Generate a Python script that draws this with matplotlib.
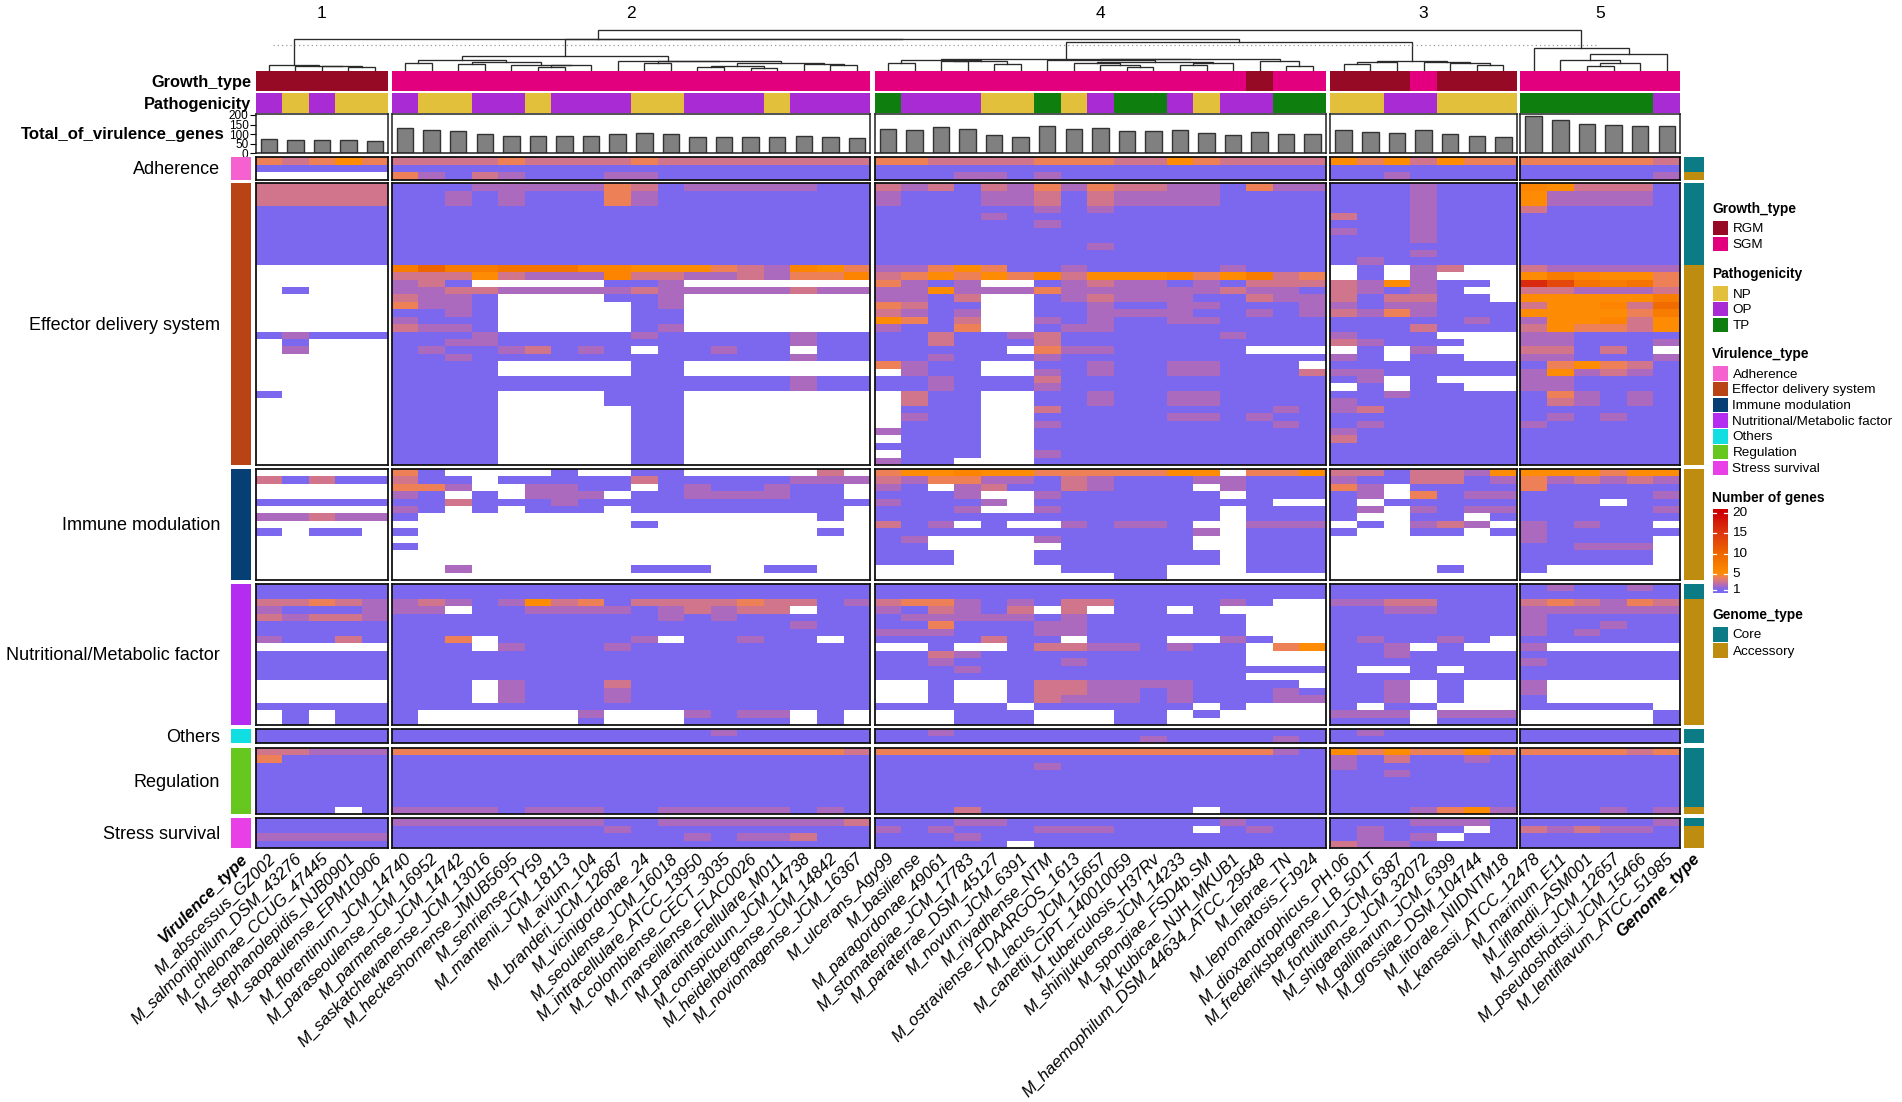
"""
plot.py  --  Virulence gene heatmap of Mycobacterium genomes, split in five clusters.
Run:  python plot.py  ->  out.png
"""

import numpy as np
import matplotlib
matplotlib.use("Agg")
import matplotlib.pyplot as plt
from matplotlib.colors import LinearSegmentedColormap, ListedColormap
from matplotlib.patches import Rectangle

plt.rcParams["font.family"] = ["Liberation Sans", "DejaVu Sans"]

W, H = 1902, 1102

cluster_ids = ["1", "2", "4", "3", "5"]

species = [
    ["M_abscessus_GZ002", "M_salmoniphilum_DSM_43276", "M_chelonae_CCUG_47445",
     "M_stephanolepidis_NJB0901", "M_saopaulense_EPM10906"],
    ["M_florentinum_JCM_14740", "M_paraseoulense_JCM_16952", "M_parmense_JCM_14742",
     "M_saskatchewanense_JCM_13016", "M_heckeshornense_JMUB5695", "M_senriense_TY59",
     "M_mantenii_JCM_18113", "M_avium_104", "M_branderi_JCM_12687", "M_vicinigordonae_24",
     "M_seoulense_JCM_16018", "M_intracellulare_ATCC_13950", "M_colombiense_CECT_3035",
     "M_marseillense_FLAC0026", "M_paraintracellulare_M011", "M_conspicuum_JCM_14738",
     "M_heidelbergense_JCM_14842", "M_noviomagense_JCM_16367"],
    ["M_ulcerans_Agy99", "M_basiliense", "M_paragordonae_49061", "M_stomatepiae_JCM_17783",
     "M_paraterrae_DSM_45127", "M_novum_JCM_6391", "M_riyadhense_NTM",
     "M_ostraviense_FDAARGOS_1613", "M_lacus_JCM_15657", "M_canettii_CIPT_140010059",
     "M_tuberculosis_H37Rv", "M_shinjukuense_JCM_14233", "M_spongiae_FSD4b.SM",
     "M_kubicae_NJH_MKUB1", "M_haemophilum_DSM_44634_ATCC_29548", "M_leprae_TN",
     "M_lepromatosis_FJ924"],
    ["M_dioxanotrophicus_PH.06", "M_frederiksbergense_LB_501T", "M_fortuitum_JCM_6387",
     "M_shigaense_JCM_32072", "M_gallinarum_JCM_6399", "M_grossiae_DSM_104744",
     "M_litorale_NIIDNTM18"],
    ["M_kansasii_ATCC_12478", "M_marinum_E11", "M_liflandii_ASM001", "M_shottsii_JCM_12657",
     "M_pseudoshottsii_JCM_15466", "M_lentiflavum_ATCC_51985"],
]

growth_type = ["RRRRR", "SSSSSSSSSSSSSSSSSS", "SSSSSSSSSSSSSSRSS", "RRRSRRR", "SSSSSS"]
pathogenicity = ["ONONN", "ONNOONOOONNOOONOOO", "TOOONNTNOTTONOOTT", "NNOONNN", "TTTTTO"]

total_genes = [
    [73, 67, 67, 67, 62],
    [130, 119, 114, 100, 90, 92, 90, 88, 99, 105, 102, 87, 83, 86, 85, 90, 85, 78],
    [125, 121, 135, 125, 93, 85, 144, 128, 133, 118, 114, 119, 107, 95, 112, 99, 99],
    [123, 112, 107, 119, 102, 90, 83],
    [194, 176, 154, 150, 140, 144],
]

# one string per gene, one block per cluster; "." = absent, base-36 digit = gene count
adherence = [
    "43454 333343333433333333 44333344433543333 5453544 444443",
    "11111 111111111111111111 11111111111111111 1111111 111111",
    "..... 421321112211111111 11122121111111111 1121111 111112",
]
adherence_core = [1, 1, 0]

effector = [
    "33333 111222224312222211 32313242433221422 1112111 653331",
    "33333 112121114211111111 21112231322221111 1112111 522221",
    "33333 112121114211111111 21112231322221111 1112111 522221",
    "11111 111111111111111111 11111121211111111 1112111 311111",
    "11111 111111111111111111 11112111111111111 3112111 111111",
    "11111 111111111111111111 11111121111111111 1112111 111111",
    "11111 111111111111111111 11111111111111111 2112111 111111",
    "11111 111111111111111111 11111111111111111 1112111 111111",
    "11111 111111111111111111 11111111211111111 1111111 111111",
    "11111 111111111111111111 11111111111111111 1112111 111111",
    "11111 111111111111111111 11111111111111111 1211111 111111",
    "..... 7a7788866555432654 22454112111112111 .1.23.. 322222",
    "..... 333532226332232446 34545463555645734 .1.2... 576554",
    "..... 231.....112....... 4212..12322121333 325211. gd8784",
    ".1... 223322222322222322 22522242222223221 32121.. 332223",
    "..... 3221....112....... 2213..12322211322 313311. 555557",
    "..... 4221.....12....... 4311..11211221112 2122111 355639",
    "..... 1121.....11....... 3212..11222211212 3242111 555547",
    "..... 2111.....11....... 5413..21211221111 1111121 255635",
    "..... 3221.....12....... 2114..12211111111 1113111 354435",
    "12111 111211111211111211 11311231111112111 2111... 221111",
    ".1... 112211111111111211 11311131111111111 32111.. 221112",
    ".2... 121123121.11211.11 11111.42211111... .1.2... 33131.",
    "..... 112111111111111211 11211121111111111 21.11.. 221112",
    "..... 1111.....11....... 4211..1121122111. 1111111 145431",
    "..... 1111.....11....... .211..21211221113 2211111 252321",
    "..... 111111111111111211 11211131111111111 12.1... 221111",
    "..... 111111111111111211 11211121111111111 .1.11.. 221111",
    "1.... 1111....111....... .311..11211221111 1121111 142121",
    "..... 1111....111....... .311..11211221111 2111111 132121",
    "..... 1111.....11....... .111..31111111121 2311111 111111",
    "..... 1111.....11....... .211..11111221211 1111111 121211",
    "..... 1111.....11....... .111..21111111121 1211111 211111",
    "..... 1111.....11....... 2111..11111111111 2111111 111111",
    "..... 1111.....11....... .111..11111111111 3111111 111111",
    "..... 1111.....11....... 1111..11111111111 1111111 111111",
    "..... 1111.....11....... .111..21111111111 1111111 111111",
    "..... 1111.....11....... 211...11111111111 1111111 111111",
]
effector_core = [1] * 11 + [0] * 27

immune = [
    "..... 41....1..11.....3. 4556554444455.445 3313325 555455",
    "31311 311.11111311111222 32442213211122111 2113312 423232",
    "..... 442..2211.1211211. 21.231132111.2111 42.1111 411111",
    "..... 21.1.222.11222211. 1112..2111111.111 12.4122 111112",
    "11111 113111211111111111 21112.111111111.. 1.11111 111.11",
    "..... 21.1.111.11111111. 1112..2111111.111 12.2122 111112",
    "22322 1...............1. 1111111111111.111 1..11.1 111111",
    "..... .........1........ 312.1..21221..222 .1.232. 21211.",
    "1.11. 1...............1. 1111111111112.111 1..11.1 211111",
    "..... .................. 12....211111..111 ....... 21111.",
    "..... 1................. 11.....11111..111 ....... 11222.",
    "..... .................. 111...1111111.111 ....... 11111.",
    "..... .................. 111...1111111.111 ....... 11111.",
    "..... ..2......111..11.. .......1111...111 ....1.. 1.....",
    "..... .................. .........11...... ....... ......",
]
immune_core = [0] * 15

nutritional = [
    "11111 111111111111111111 11111111111111111 1111111 121121",
    "11111 111111111111111111 11111111111111111 1111111 111111",
    "33432 232125341333343312 344212133111121.. 2233111 343243",
    "21112 22.112222123233.11 213213.3.11.1.... 1122111 222222",
    "32332 111111111121211111 12222212111111... 1111111 211111",
    "11111 111111111111111211 11411122111111... 1111111 211211",
    "11111 111111111111111111 22211122111111... 1111111 212111",
    "21131 114.111112.11211.1 1111311.111..21.. 121121. 111111",
    "..... 111.21112111111111 ..1..133221211.45 112.1.. 2.....",
    "11111 111111111111111111 11321111111111... 1121111 111111",
    "11111 111111111111111111 11211112111111... 1111111 211111",
    "11111 111111111111111111 11121111111111111 1..1.11 111111",
    "11111 111111111111111111 11111111111111... 1111111 111111",
    "..... 111.21113111111111 ..1..13322221111. 112.1.. 2.....",
    "..... 111.21112111111111 ..1..133221211121 112.1.. 2.....",
    "..... 111.21112111111111 ..1..132221211122 112.1.. 1.....",
    "11111 111111111111111111 11111.111111.1... 1.11... 11111.",
    ".1.11 1......2...2122.1. ...111...11.1.... 222.222 .....1",
    ".1.11 1......1...1111.1. ...111...11...... 111.111 .....1",
]
nutritional_core = [1, 1] + [0] * 17

others = [
    "11111 111111111111211111 11211111111111111 1211111 111111",
    "11111 111111111111111111 11111111112111121 1111111 111111",
]
others_core = [1, 1]

regulation = [
    "33222 444444444444444443 44444444444444421 5454454 444434",
    "41111 111111111111111111 11111111111111111 2131121 111111",
    "11111 111111111111111111 11111121111111111 2111111 111111",
    "11111 111111111111111111 11111111111111111 1121111 111111",
    "11111 111111111111111111 11111111111111111 1111111 111111",
    "11111 111111111111111111 11111111111111111 1111111 111111",
    "11111 111111111111111111 11111111111111111 1111111 111111",
    "11111 111111111111111111 11111111111111111 1111111 111111",
    "111.1 222212221122222121 111311111111.1111 1112452 111212",
]
regulation_core = [1] * 8 + [0]

stress = [
    "11111 222222221122222223 11122111111112111 1112221 111112",
    "11111 111111112111111111 212111222111.1211 12111.1 323221",
    "22222 111111111112122311 11121111111111111 1212.11 111111",
    "11111 111111111111111111 11111.11111111111 3221111 111111",
]
stress_core = [1, 0, 0, 0]

group_names = ["Adherence", "Effector delivery system", "Immune modulation",
               "Nutritional/Metabolic factor", "Others", "Regulation", "Stress survival"]
group_rows = [adherence, effector, immune, nutritional, others, regulation, stress]
group_core = [adherence_core, effector_core, immune_core, nutritional_core,
              others_core, regulation_core, stress_core]

# dendrogram: (height, left, right), leaves are column numbers
tree_c1 = (14, 0, (13, 1, (11, 2, (9, 3, 4))))
tree_c2 = (41, (29, (22, 5, 6), (24, (19, 7, 8), (16, 9, (14, (9, 10, 11), 12)))),
           (28, 13, (26, (20, 14, 15), (21, (11, (9, 16, 17), (7, 18, 19)),
                                        (18, 20, (15, 21, 22))))))
tree_c4 = (34, (31, (22, 23, 24), (27, (26, 25, 26), (18, 27, 28))),
           (32, (29, 29, (25, (21, 30, (14, 31, (8, 32, 33))), (22, (14, 34, 35), 36))),
            (27, 37, (11, 38, 39))))
tree_c3 = (27, (25, (18, 40, 41), 42), (24, 43, (20, 44, (15, 45, 46))))
tree_c5 = (67, 47, (48, (29, 48, (22, (13, 49, 50), 51)), 52))
tree_all = (120, (94, tree_c1, (92, tree_c2, (83, tree_c4, tree_c3))), tree_c5)

# colours
GROWTH = {"R": "#960A25", "S": "#E3007F"}
PATHO = {"N": "#E3C03C", "O": "#A82BD4", "T": "#0E7F0E"}
GROUP_COL = ["#F562D0", "#B84315", "#053F74", "#B32CF0", "#10DEE0", "#66C81E", "#E83FE6"]
CORE, ACCESSORY = "#0B7B85", "#BE8C0E"

CMAP_STOPS = [(1, "#7B68EE"), (2, "#AE6ABC"), (3, "#D3768A"), (4, "#EE8055"), (5, "#FF8C00"),
              (10, "#EE6400"), (15, "#DD3510"), (20, "#CC0000")]
cmap = LinearSegmentedColormap.from_list(
    "genes", [((v - 1) / 19, c) for v, c in CMAP_STOPS])
cmap.set_bad("white")

# layout, in pixels of the final image
COL_X = [(255.5, 388.2), (391.8, 870.2), (874.7, 1326.0), (1330.4, 1516.8), (1520.4, 1680.1)]
ROW_Y = [(157.3, 179.7), (183.3, 465.0), (469.0, 580.0), (584.0, 725.0),
         (729.0, 743.0), (748.0, 814.3), (818.3, 848.0)]
LEFT_BAR = (231.4, 251.0)
RIGHT_BAR = (1683.8, 1703.5)

fig = plt.figure(figsize=(W / 100, H / 100), dpi=100)


def ax_px(x0, y0, x1, y1, **kw):
    return fig.add_axes([x0 / W, 1 - y1 / H, (x1 - x0) / W, (y1 - y0) / H], **kw)


def parse(rows):
    """Rows of strings -> list (one per cluster) of 2-D arrays with NaN for absent."""
    blocks = [r.split() for r in rows]
    out = []
    for c in range(5):
        mat = [[np.nan if ch == "." else int(ch, 36) for ch in b[c][:len(species[c])]]
               for b in blocks]
        out.append(np.array(mat, dtype=float))
    return out


def strip(x0, y0, x1, y1, mat, colours, frame=False):
    ax = ax_px(x0, y0, x1, y1)
    ax.pcolormesh(mat, cmap=ListedColormap(colours), vmin=0, vmax=len(colours),
                  antialiased=False)
    ax.invert_yaxis()
    ax.set_xticks([])
    ax.set_yticks([])
    for s in ax.spines.values():
        s.set_visible(frame)
    return ax


# annotation strips and bars on top
for c, (x0, x1) in enumerate(COL_X):
    keys = list(GROWTH)
    strip(x0, 71.3, x1, 91.3, np.array([[keys.index(g) for g in growth_type[c]]]),
          list(GROWTH.values()))
    keys = list(PATHO)
    strip(x0, 92.7, x1, 112.7, np.array([[keys.index(p) for p in pathogenicity[c]]]),
          list(PATHO.values()))

    ax = ax_px(x0, 114.0, x1, 153.3)
    pos = np.arange(len(total_genes[c])) + 0.5
    ax.bar(pos, total_genes[c], width=0.62, color="#808080", edgecolor="#333333", linewidth=1.0)
    ax.set_xlim(0, len(total_genes[c]))
    ax.set_ylim(0, 205)
    ax.set_xticks([])
    for s in ax.spines.values():
        s.set_linewidth(1.1)
        s.set_color("#222222")
    if c == 0:
        ax.set_yticks([0, 50, 100, 150, 200])
        ax.tick_params(axis="y", labelsize=8.5, length=4, width=0.8, pad=1)
    else:
        ax.set_yticks([])

# main heatmap blocks
for g, rows in enumerate(group_rows):
    y0, y1 = ROW_Y[g]
    blocks = parse(rows)
    for c, (x0, x1) in enumerate(COL_X):
        ax = ax_px(x0, y0, x1, y1)
        ax.pcolormesh(np.ma.masked_invalid(blocks[c]), cmap=cmap, vmin=1, vmax=20,
                      antialiased=False)
        ax.invert_yaxis()
        ax.set_xticks([])
        ax.set_yticks([])
        for s in ax.spines.values():
            s.set_linewidth(1.3)
            s.set_color("#111111")
    strip(LEFT_BAR[0], y0, LEFT_BAR[1], y1, np.zeros((len(rows), 1)), [GROUP_COL[g]])
    core = np.array(group_core[g])[:, None]
    strip(RIGHT_BAR[0], y0, RIGHT_BAR[1], y1, 1 - core, [CORE, ACCESSORY])

# overlay in pixel coordinates for dendrogram and texts
ov = fig.add_axes([0, 0, 1, 1], zorder=5)
ov.set_xlim(0, W)
ov.set_ylim(H, 0)
ov.axis("off")
ov.patch.set_alpha(0)

leaf_x = []
for c, (x0, x1) in enumerate(COL_X):
    n = len(species[c])
    leaf_x.extend(x0 + (x1 - x0) * (i + 0.5) / n for i in range(n))


def draw_tree(node):
    if isinstance(node, int):
        return leaf_x[node], 0
    h, left, right = node
    xl, hl = draw_tree(left)
    xr, hr = draw_tree(right)
    ys = [70 - v / 3 for v in (hl, h, h, hr)]
    ov.plot([xl, xl, xr, xr], ys, color="#2A2A2A", lw=0.95, solid_joinstyle="miter")
    return (xl + xr) / 2, h


draw_tree(tree_all)
ov.plot([272.6, 1598], [45.3, 45.3], color="#9A9A9A", lw=0.9, ls=(0, (1, 2.4)))

for c, (x0, x1) in enumerate(COL_X):
    ov.text((x0 + x1) / 2, 13.5, cluster_ids[c], ha="center", va="center", fontsize=12.5)

ov.text(251, 82.5, "Growth_type", ha="right", va="center", fontsize=11.8, fontweight="bold")
ov.text(251, 104, "Pathogenicity", ha="right", va="center", fontsize=11.8, fontweight="bold")
ov.text(225, 135, "Total_of_virulence_genes", ha="right", va="center", fontsize=12.1,
        fontweight="bold")
for g, name in enumerate(group_names):
    ov.text(220, sum(ROW_Y[g]) / 2 + 1.2, name, ha="right", va="center", fontsize=13)

names = [s for block in species for s in block]
for x, name in zip(leaf_x, names):
    ov.text(x - 1, 851, name, ha="right", va="top", rotation=45, rotation_mode="anchor",
            fontsize=12.1, style="italic")
ov.text(sum(LEFT_BAR) / 2 - 1, 851, "Virulence_type", ha="right", va="top", rotation=45,
        rotation_mode="anchor", fontsize=12.1, style="italic", fontweight="bold")
ov.text(sum(RIGHT_BAR) / 2 - 1, 851, "Genome_type", ha="right", va="top", rotation=45,
        rotation_mode="anchor", fontsize=12.1, style="italic", fontweight="bold")


# legends
def legend(title, title_y, labels, colours, first_y, step):
    ov.text(1712, title_y + 1, title, ha="left", va="center", fontsize=9.9, fontweight="bold")
    for i, (lab, col) in enumerate(zip(labels, colours)):
        y = first_y + i * step
        ov.add_patch(Rectangle((1713, y), 14.5, 14.5, facecolor=col, edgecolor="none"))
        ov.text(1732.5, y + 8.5, lab, ha="left", va="center", fontsize=9.7)


legend("Growth_type", 207.7, ["RGM", "SGM"], list(GROWTH.values()), 220.7, 16)
legend("Pathogenicity", 273, ["NP", "OP", "TP"], list(PATHO.values()), 286, 15.8)
legend("Virulence_type", 352.7, group_names, GROUP_COL, 366, 15.75)
legend("Genome_type", 614, ["Core", "Accessory"], [CORE, ACCESSORY], 627, 16)

ov.text(1712, 498, "Number of genes", ha="left", va="center", fontsize=9.9, fontweight="bold")
cb = ax_px(1712.5, 509, 1727.5, 593.3)
grad = np.linspace(20.9, 0.2, 256)[:, None]
cb.imshow(grad, cmap=cmap, vmin=1, vmax=20, aspect="auto", extent=(0, 1, 0.2, 20.9))
cb.axis("off")
for v in [1, 5, 10, 15, 20]:
    y = 590.3 - (v - 1) * 4.08
    ov.plot([1712.5, 1716], [y, y], color="white", lw=0.9)
    ov.plot([1724, 1727.5], [y, y], color="white", lw=0.9)
    ov.text(1732, y, str(v), ha="left", va="center", fontsize=9.7)

fig.savefig("out.png", dpi=100, facecolor="white")
